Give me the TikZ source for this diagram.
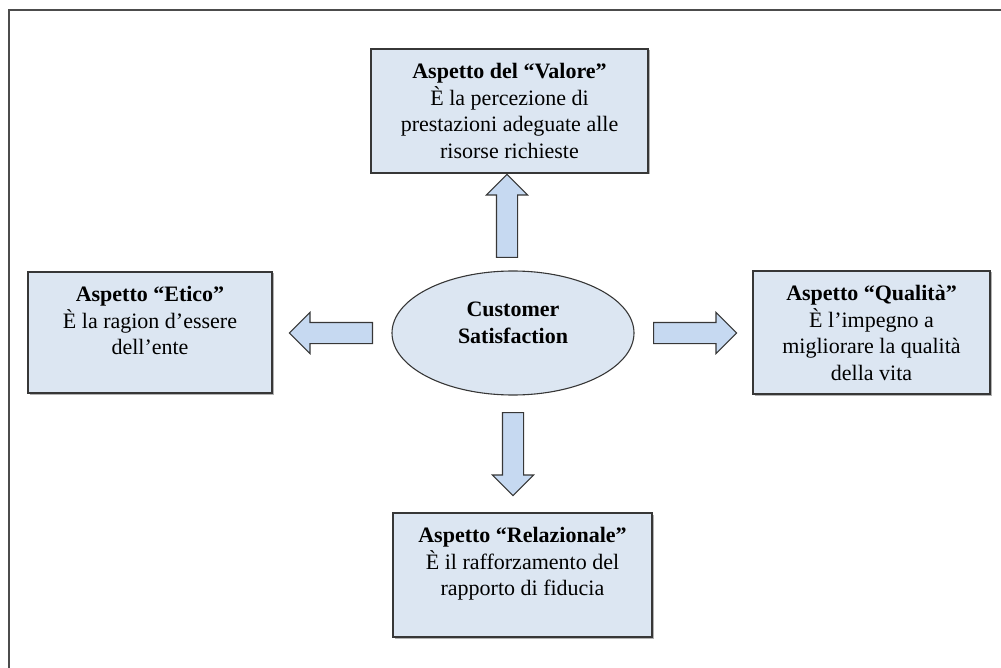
\documentclass[tikz,border=0pt]{standalone}
\usepackage{fontspec}
\setmainfont{Liberation Serif}
\usepackage{tikz}
\usetikzlibrary{positioning}
\usetikzlibrary{shapes.geometric}
\usetikzlibrary{shapes.arrows}
\usetikzlibrary{shadows}
\definecolor{iceblue}{RGB}{220,230,242}
\definecolor{arrowblue}{RGB}{198,217,241}
\definecolor{edgegray}{RGB}{55,55,55}

\begin{document}
\begin{tikzpicture}[
            x = 1pt, y = -1pt, % pixel units, y going down
            font = \fontsize{22}{26.5}\selectfont,
            semithick % line style
        ]

        \tikzstyle{aspect}=[
            draw = edgegray,
            line width = 1.2pt,
            fill = iceblue,
            inner sep = 0pt,
            drop shadow = {shadow xshift=1.5pt, shadow yshift=-1.5pt,
                           fill=gray!60, opacity=1}
        ]
        \tikzstyle{aspect text}=[
            anchor = north,
            align = center,
            inner xsep = 0pt,
            inner ysep = 15pt
        ]
        \tikzstyle{blockarrow}=[
            single arrow,
            draw = edgegray,
            line width = 1.1pt,
            fill = arrowblue,
            inner sep = 10pt,
            minimum width = 40pt,
            minimum height = 83pt,
            single arrow head extend = 10pt,
            anchor = tail
        ]

        \useasboundingbox (0,0) rectangle (1001,668);

        % frame (runs off the page to the right and below)
        \coordinate (frameNE) at (1001,10);
        \coordinate (frameNW) at (9,10);
        \coordinate (frameSW) at (9,668);
        \draw[line width = 1.6pt, draw = black!70] (frameNE) -- (frameNW) -- (frameSW);

        % centre
        \node[ellipse, draw = edgegray, line width = 1.1pt, fill = iceblue,
              minimum width = 242pt, minimum height = 124pt, inner sep = 0pt,
              align = center, font = \fontsize{22}{27}\selectfont\bfseries,
              text depth = 20pt] (CS) at (513,333) {Customer\\Satisfaction};

        % aspects
        \node[aspect, minimum width = 277pt, minimum height = 124pt,
              label = {[aspect text]north:{\textbf{Aspetto del “Valore”}\\È la percezione di\\prestazioni adeguate alle\\risorse richieste}}]
              (V) at (509.5,111) {};
        \node[aspect, minimum width = 244pt, minimum height = 121pt,
              label = {[aspect text]north:{\textbf{Aspetto “Etico”}\\È la ragion d’essere\\dell’ente}}]
              (E) at (150,332.5) {};
        \node[aspect, minimum width = 237pt, minimum height = 123pt,
              label = {[aspect text]north:{\textbf{Aspetto “Qualità”}\\È l’impegno a\\migliorare la qualità\\della vita}}]
              (Q) at (871.5,332.5) {};
        \node[aspect, minimum width = 259pt, minimum height = 124pt,
              label = {[aspect text]north:{\textbf{Aspetto “Relazionale”}\\È il rafforzamento del\\rapporto di fiducia}}]
              (R) at (522.5,575) {};

        % arrows
        \node[blockarrow, rotate = 90] (toV) at (507,258) {};
        \node[blockarrow, rotate = 180] (toE) at (373,333) {};
        \node[blockarrow] (toQ) at (653,333) {};
        \node[blockarrow, rotate = -90] (toR) at (513,412) {};

\end{tikzpicture}
\end{document}
